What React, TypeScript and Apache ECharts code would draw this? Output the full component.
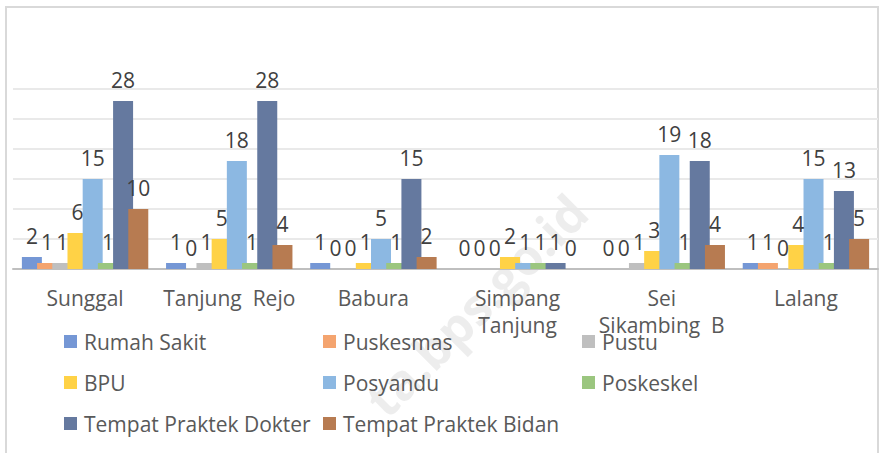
import React, { useEffect, useRef } from "react";
import * as echarts from "echarts";

const categories = ["Sunggal", "Tanjung  Rejo", "Babura", "Simpang\nTanjung", "Sei\nSikambing  B", "Lalang"];
const seriesNames = [
  "Rumah Sakit",
  "Puskesmas",
  "Pustu",
  "BPU",
  "Posyandu",
  "Poskeskel",
  "Tempat Praktek Dokter",
  "Tempat Praktek Bidan",
];
const rumahSakit = [2, 1, 1, 0, 0, 1];
const puskesmas = [1, 0, 0, 0, 0, 1];
const pustu = [1, 1, 0, 0, 1, 0];
const bpu = [6, 5, 1, 2, 3, 4];
const posyandu = [15, 18, 5, 1, 19, 15];
const poskeskel = [1, 1, 1, 1, 1, 1];
const praktekDokter = [28, 28, 15, 1, 18, 13];
const praktekBidan = [10, 4, 2, 0, 4, 5];
const seriesValues = [rumahSakit, puskesmas, pustu, bpu, posyandu, poskeskel, praktekDokter, praktekBidan];
const colors = ["#7597D5", "#F4A46F", "#BFBFBF", "#FFD246", "#8CB8E2", "#9BC67F", "#65799F", "#B77B51"];

const legendColumns = [
  ["Rumah Sakit", "BPU", "Tempat Praktek Dokter"],
  ["Puskesmas", "Posyandu", "Tempat Praktek Bidan"],
  ["Pustu", "Poskeskel"],
];
const legendLefts = [64, 323, 582];

const FONT = "'Open Sans', sans-serif";

export default function App() {
  const ref = useRef<HTMLDivElement>(null);
  useEffect(() => {
    if (!ref.current) return;
    const chart = echarts.init(ref.current, undefined, { renderer: "svg" });
    chart.setOption({
      animation: false,
      backgroundColor: "#ffffff",
      color: colors,
      textStyle: { fontFamily: FONT },
      grid: { left: 13, top: 89, width: 865, height: 180, containLabel: false },
      xAxis: {
        type: "category",
        data: categories,
        axisLine: { lineStyle: { color: "#BFBFBF", width: 2 } },
        axisTick: { show: false },
        axisLabel: {
          interval: 0,
          margin: 15,
          fontSize: 21,
          lineHeight: 27,
          color: "#595959",
          fontFamily: FONT,
        },
      },
      yAxis: {
        type: "value",
        min: 0,
        max: 30,
        interval: 5,
        axisLabel: { show: false },
        axisLine: { show: false },
        axisTick: { show: false },
        splitLine: { lineStyle: { color: "#E9E9E9", width: 2 } },
      },
      legend: legendColumns.map((col, i) => ({
        orient: "vertical",
        left: legendLefts[i],
        top: 331,
        padding: 0,
        itemGap: 20,
        itemWidth: 13,
        itemHeight: 13,
        icon: "rect",
        selectedMode: false,
        data: col,
        textStyle: {
          fontSize: 21,
          lineHeight: 21,
          color: "#595959",
          fontFamily: FONT,
          padding: [0, 0, 0, 2],
        },
      })),
      graphic: [
        {
          type: "rect",
          z: 0,
          shape: { x: 6, y: 7, width: 872, height: 470 },
          style: { fill: "none", stroke: "#D9D9D9", lineWidth: 2 },
        },
        {
          type: "text",
          z: 0,
          x: 476,
          y: 305,
          rotation: Math.PI / 4,
          style: {
            text: "ta.bps.go.id",
            fontSize: 50,
            fontWeight: "bold",
            fontFamily: FONT,
            fill: "rgba(0,0,0,0.07)",
            align: "center",
            verticalAlign: "middle",
          },
        },
      ],
      series: seriesNames.map((name, i) => ({
        name,
        type: "bar",
        data: seriesValues[i],
        barWidth: 20,
        barGap: "-24%",
        itemStyle: { color: colors[i] },
        label: {
          show: true,
          position: "top",
          distance: 11,
          fontSize: 21,
          color: "#404040",
          fontFamily: FONT,
        },
      })),
    });
    return () => chart.dispose();
  }, []);
  return (
    <div
      ref={ref}
      style={{ position: "absolute", left: 0, top: 0, width: 882, height: 453 }}
    />
  );
}
